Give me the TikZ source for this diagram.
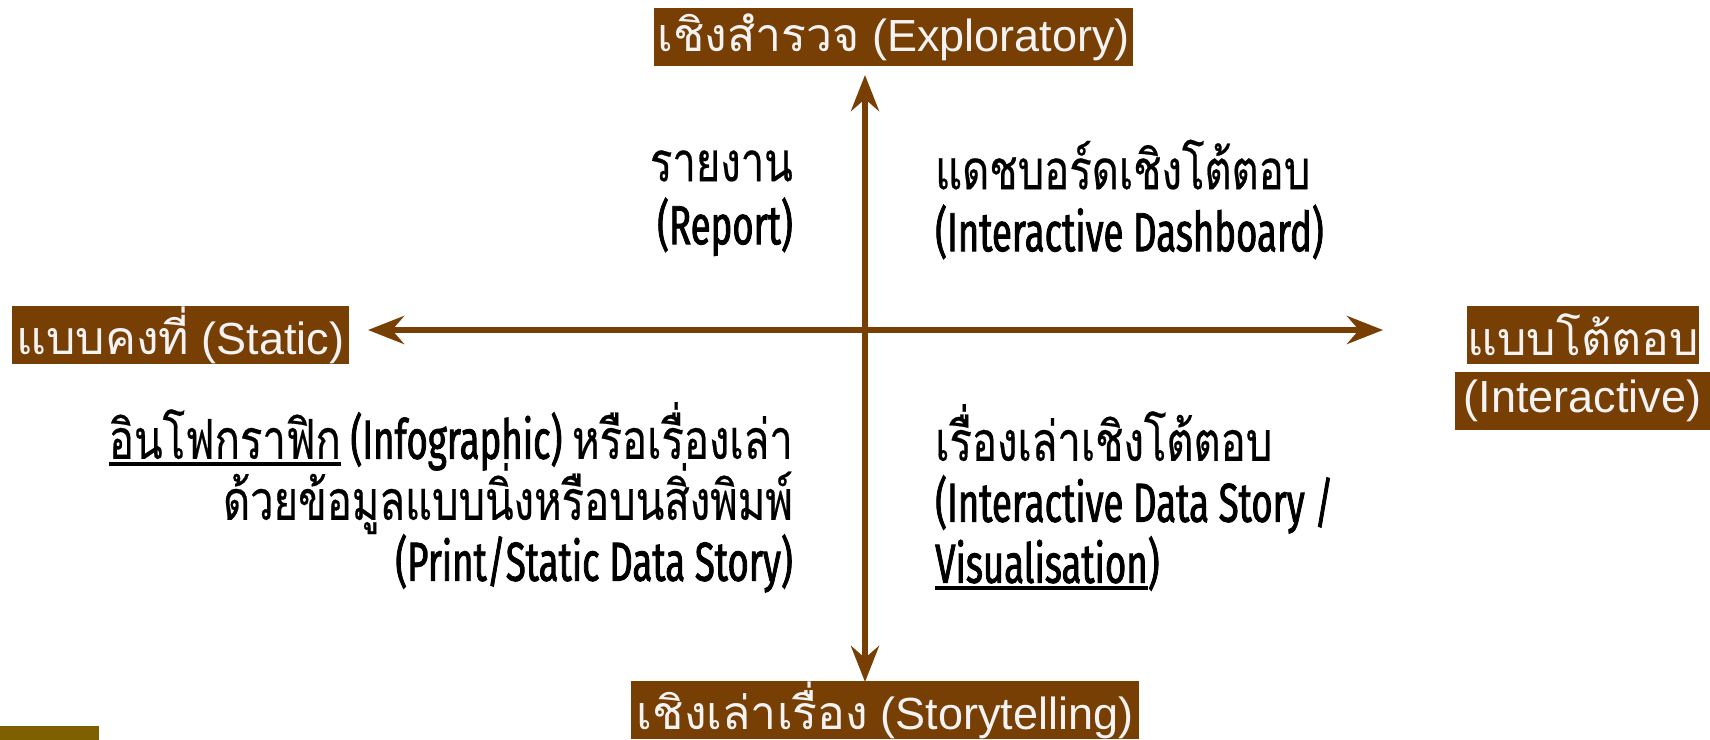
\documentclass[tikz,border=0pt]{standalone}
\usepackage{fontspec}
\setmainfont{Liberation Sans}
\newfontfamily\thaiboxfont[Script=Thai,Scale=1.03]{Loma}
\newfontfamily\quadlat[FakeStretch=0.665,FakeBold=1.5]{Fira Sans}
\newfontfamily\quadthai[Script=Thai,FakeStretch=0.76,FakeBold=0.4]{Loma}
\usetikzlibrary{arrows.meta}
\definecolor{axisbrown}{HTML}{783F04}
\definecolor{boxyellow}{HTML}{7F6000}
\definecolor{labelwhite}{HTML}{F3F3F3}
\lineskiplimit=-100pt
\newcommand\tb[1]{{\thaiboxfont #1}}
\newcommand\tq[1]{{\quadthai #1}}
\newcommand\myul[1]{\setbox0\hbox{#1}\rlap{\rule[-7pt]{\wd0}{4pt}}\box0\relax}
\newcommand\firststrut{\rule{0pt}{50pt}}
\begin{document}
\begin{tikzpicture}[x=1pt,y=-1pt,
 axislabel/.style={fill=axisbrown,text=labelwhite,inner sep=0pt,minimum height=58pt,font=\fontsize{45}{52}\selectfont},
 quad/.style={inner sep=0pt,text=black},
 axis/.style={draw=axisbrown,line width=6pt,-{Stealth[length=36pt,width=28pt,inset=12pt]}}]
\useasboundingbox (0,0) rectangle (1710,739);
% axis labels
\node[axislabel,minimum width=479pt] (top) at (893.5,37) {\tb{เชิงสำรวจ} (Exploratory)};
\node[axislabel,minimum width=337pt] (left) at (180.5,335) {\tb{แบบคงที่} (Static)};
\node[axislabel,minimum width=224pt] (right1) at (1583,334.5) {\tb{แบบโต้ตอบ}};
\node[axislabel,minimum width=255pt] (right2) at (1582.5,400.5) {(Interactive)};
\node[axislabel,minimum width=508pt] (bottom) at (885,710) {\tb{เชิงเล่าเรื่อง} (Storytelling)};
\node[fill=boxyellow,inner sep=0pt,minimum width=99pt,minimum height=20pt,anchor=north west] (corner) at (0,726) {};
% axes
\coordinate (c) at (865,330);
\coordinate (tipN) at (865,75);
\coordinate (tipS) at (865,682);
\coordinate (tipW) at (368,330);
\coordinate (tipE) at (1383,330);
\draw[axis] (c) -- (tipN);
\draw[axis] (c) -- (tipS);
\draw[axis] (c) -- (tipW);
\draw[axis] (c) -- (tipE);
% quadrant texts
\node[quad,align=right,anchor=north east,font=\quadlat\fontsize{55}{63}\selectfont] (report) at (793,131)
 {\firststrut\tq{รายงาน}\\(Report)};
\node[quad,align=left,anchor=north west,font=\quadlat\fontsize{55}{62}\selectfont] (dash) at (935,139)
 {\firststrut\tq{แดชบอร์ดเชิงโต้ตอบ}\\(Interactive Dashboard)};
\node[quad,align=right,anchor=north east,font=\quadlat\fontsize{55}{61}\selectfont] (info) at (793,402)
 {\firststrut\myul{\tq{อินโฟกราฟิก}} (Infographic) \tq{หรือเรื่องเล่า}\\\tq{ด้วยข้อมูลแบบนิ่งหรือบนสิ่งพิมพ์}\\(Print/Static Data Story)};
\node[quad,align=left,anchor=north west,font=\quadlat\fontsize{55}{61}\selectfont] (story) at (935,404)
 {\firststrut\tq{เรื่องเล่าเชิงโต้ตอบ}\\(Interactive Data Story /\\\myul{Visualisation})};
\end{tikzpicture}
\end{document}
